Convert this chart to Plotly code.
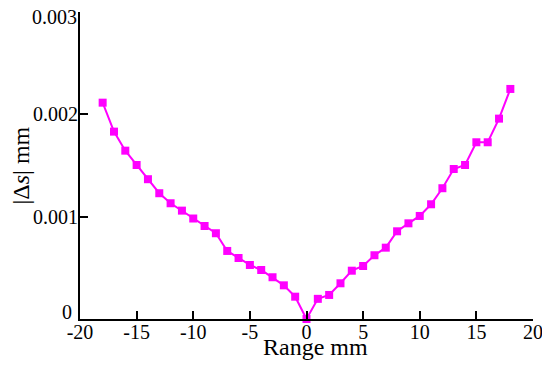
"""Displacement error versus range."""

import plotly.graph_objs as go

# data
range_mm = list(range(-18, 19))
delta_s = [
    0.002114, 0.001831, 0.001645, 0.001505, 0.001366, 0.001229, 0.001131,
    0.001059, 0.000982, 0.000909, 0.000838, 0.000665, 0.000596, 0.000528,
    0.000479, 0.000408, 0.000329, 0.000218, 0.0,
    0.000197, 0.000235, 0.000349, 0.000472, 0.000518, 0.000623, 0.000697,
    0.000857, 0.000935, 0.001007, 0.001121, 0.001278, 0.001466, 0.001505,
    0.001727, 0.001727, 0.001958, 0.002248,
]
x_ticks = [-20, -15, -10, -5, 0, 5, 10, 15, 20]
x_tick_labels = ["-20", "-15", "-10", "-5", "0", "5", "10", "15", "20"]
y_ticks = [0, 0.001, 0.002, 0.003]
# end labels ("0" and "0.003") are nudged inward, so they are placed by hand
y_tick_labels = ["", "0.001", "0.002", ""]

FONT = "Liberation Serif, DejaVu Serif, serif"
MAGENTA = "#FF00FF"

fig = go.Figure(
    go.Scatter(
        x=range_mm,
        y=delta_s,
        mode="lines+markers",
        line=dict(color=MAGENTA, width=2),
        marker=dict(symbol="square", size=8, color=MAGENTA),
        cliponaxis=False,
        showlegend=False,
    )
)

axis_common = dict(
    showline=True,
    linecolor="black",
    linewidth=2,
    ticks="inside",
    ticklen=8,
    tickwidth=2,
    tickcolor="black",
    showgrid=False,
    zeroline=False,
    automargin=False,
    tickfont=dict(family=FONT, size=20, color="black"),
)

fig.update_xaxes(
    range=[-20, 20],
    tickvals=x_ticks,
    ticktext=x_tick_labels,
    ticklabelstandoff=-6,
    **axis_common,
)
fig.update_yaxes(
    range=[0, 0.003],
    tickvals=y_ticks,
    ticktext=y_tick_labels,
    ticklabelstandoff=-4,
    **axis_common,
)

for val, label, dx, dy in [(y_ticks[0], "0", -7, 7), (y_ticks[-1], "0.003", -2, -5)]:
    fig.add_annotation(
        text=label,
        x=0, xref="paper", xanchor="right",
        y=val, yref="y", yanchor="middle",
        xshift=dx, yshift=dy,
        borderpad=0,
        showarrow=False,
        font=dict(family=FONT, size=20, color="black"),
    )

# axis titles as annotations so they can sit as close as in the original
fig.add_annotation(
    text="Range mm",
    x=0.5, xref="paper", xanchor="center",
    y=-0.042, yref="paper", yanchor="top",
    xshift=9,
    showarrow=False,
    font=dict(family=FONT, size=24, color="black"),
)
fig.add_annotation(
    text="|Δ<i>s</i>| mm",
    x=0, xref="paper", xanchor="center",
    y=0.5, yref="paper", yanchor="middle",
    xshift=-60,
    textangle=-90,
    showarrow=False,
    font=dict(family=FONT, size=24, color="black"),
)

# the page adds an 8px body margin, so the plot box is offset to match
fig.update_layout(
    width=550,
    height=367,
    margin=dict(l=72, r=25, t=4, b=56),
    plot_bgcolor="white",
    paper_bgcolor="white",
)

fig.write_html("out.html")
